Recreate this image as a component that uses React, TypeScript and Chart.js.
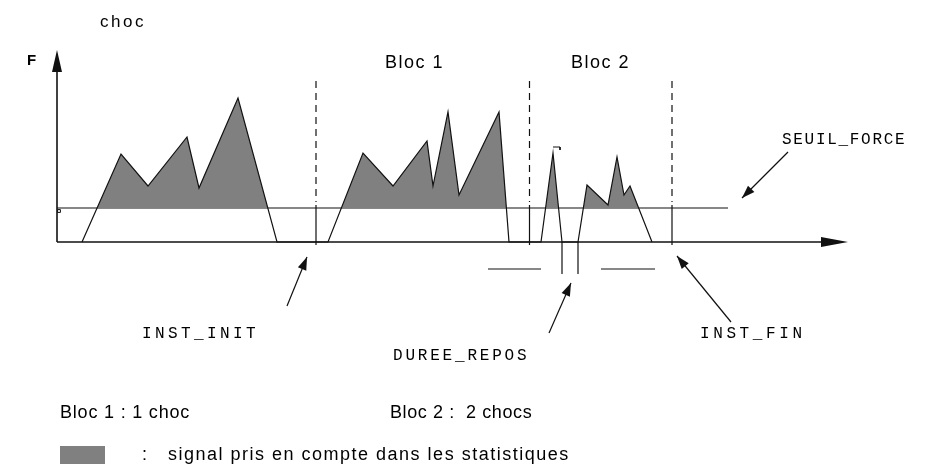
import { useEffect, useRef } from "react";
import { Chart, registerables } from "chart.js";

Chart.register(...registerables);

// ---- data (time units along the axis, force units upward) ----
const SEUIL_FORCE = 34;
const signalTime = [25, 64, 91, 130, 142, 181, 220, 271, 306, 336, 370, 376, 391, 402, 442, 452, 484, 496, 505, 521, 530, 551, 560, 567, 573, 595];
const signalForce = [0, 88, 56, 105, 54, 144, 0, 0, 89, 56, 101, 56, 130, 47, 130, 0, 0, 89, 0, 0, 57, 37, 85, 47, 56, 0];
const markerTime = [259, 472.5, 615]; // INST_INIT, bloc boundary, INST_FIN
const reposTime = [505, 521];
const reposBarStart = [431, 544];
const reposBarEnd = [484, 598];
const thresholdEnd = 671;
const xAxisEnd = 791;
const yAxisEnd = 192;

const GRAY = "#808080";
const INK = "#111";

function seg(x1: number, y1: number, x2: number, y2: number, dash: number[] = [], width = 1.2) {
  return {
    data: [{ x: x1, y: y1 }, { x: x2, y: y2 }],
    borderColor: INK,
    borderWidth: width,
    borderDash: dash,
    pointRadius: 0,
    showLine: true,
    fill: false,
  };
}

function spaced(ctx: CanvasRenderingContext2D, text: string, x: number, y: number, sp: number) {
  (ctx as any).letterSpacing = sp + "px";
  ctx.fillText(text, x, y);
  (ctx as any).letterSpacing = "0px";
}

const annot = {
  id: "annot",
  afterDatasetsDraw(chart: any) {
    const ctx = chart.ctx as CanvasRenderingContext2D;
    const xs = chart.scales.x;
    const ys = chart.scales.y;
    const px = (v: number) => xs.getPixelForValue(v);
    const py = (v: number) => ys.getPixelForValue(v);
    ctx.save();
    ctx.fillStyle = INK;
    ctx.strokeStyle = INK;

    // axis arrowheads
    const ox = px(0), oy = py(0);
    ctx.beginPath();
    ctx.moveTo(px(xAxisEnd), oy);
    ctx.lineTo(px(xAxisEnd) - 27, oy - 5);
    ctx.lineTo(px(xAxisEnd) - 27, oy + 5);
    ctx.closePath();
    ctx.fill();
    ctx.beginPath();
    ctx.moveTo(ox, py(yAxisEnd));
    ctx.lineTo(ox - 5, py(yAxisEnd) + 22);
    ctx.lineTo(ox + 5, py(yAxisEnd) + 22);
    ctx.closePath();
    ctx.fill();

    // annotation arrows (tail -> tip), in data units
    const arrows = [
      [731, 90, 685, 44],
      [230, -64, 250, -15],
      [492, -91, 514, -41],
      [674, -80, 620, -14],
    ];
    ctx.lineWidth = 1.2;
    for (const [tx, ty, hx, hy] of arrows) {
      const x1 = px(tx), y1 = py(ty), x2 = px(hx), y2 = py(hy);
      const a = Math.atan2(y2 - y1, x2 - x1);
      ctx.beginPath();
      ctx.moveTo(x1, y1);
      ctx.lineTo(x2, y2);
      ctx.stroke();
      const L = 13, W = 4.5;
      ctx.beginPath();
      ctx.moveTo(x2, y2);
      ctx.lineTo(x2 - L * Math.cos(a) + W * Math.sin(a), y2 - L * Math.sin(a) - W * Math.cos(a));
      ctx.lineTo(x2 - L * Math.cos(a) - W * Math.sin(a), y2 - L * Math.sin(a) + W * Math.cos(a));
      ctx.closePath();
      ctx.fill();
    }

    // texts
    ctx.textBaseline = "middle";
    ctx.fillStyle = "#000";
    ctx.textAlign = "left";
    ctx.font = '17px "Liberation Sans", Arial, sans-serif';
    spaced(ctx, "choc", 100, 22, 2.5);
    ctx.font = 'bold 15px "Liberation Sans", Arial, sans-serif';
    ctx.fillText("F", 27, 61);
    ctx.font = '18px "Liberation Sans", Arial, sans-serif';
    spaced(ctx, "Bloc 1", 385, 63, 1.5);
    spaced(ctx, "Bloc 2", 571, 63, 1.5);

    ctx.font = '16px "Liberation Mono", "DejaVu Sans Mono", monospace';
    spaced(ctx, "SEUIL_FORCE", 782, 140, 1.7);
    spaced(ctx, "INST_INIT", 142, 334, 3.4);
    spaced(ctx, "DUREE_REPOS", 393, 356, 2.8);
    spaced(ctx, "INST_FIN", 700, 334, 3.6);

    ctx.font = '18px "Liberation Sans", Arial, sans-serif';
    spaced(ctx, "Bloc 1 : 1 choc", 60, 413, 0.8);
    spaced(ctx, "Bloc 2 :  2 chocs", 390, 413, 0.6);
    ctx.fillText(":", 142, 455);
    spaced(ctx, "signal pris en compte dans les statistiques", 168, 455, 1.5);
    ctx.fillStyle = GRAY;
    ctx.fillRect(60, 446, 45, 18);
    ctx.restore();
  },
};

export default function App() {
  const ref = useRef<HTMLCanvasElement | null>(null);
  useEffect(() => {
    if (!ref.current) return;
    const datasets: any[] = [
      {
        data: signalTime.map((t, i) => ({ x: t, y: signalForce[i] })),
        borderColor: INK,
        borderWidth: 1.2,
        pointRadius: 0,
        showLine: true,
        fill: { target: { value: SEUIL_FORCE }, above: GRAY, below: "rgba(0,0,0,0)" },
      },
      seg(0, SEUIL_FORCE, thresholdEnd, SEUIL_FORCE),
      seg(0, 0, xAxisEnd - 20, 0, [], 1.6),
      seg(0, 0, 0, yAxisEnd - 10, [], 1.6),
      ...markerTime.map((t) => seg(t, 161, t, 40, [7, 5])),
      ...markerTime.map((t) => seg(t, 37, t, -3)),
      ...reposTime.map((t) => seg(t, 0, t, -32)),
      ...reposBarStart.map((s, i) => seg(s, -27, reposBarEnd[i], -27)),
      {
        data: [{ x: 2, y: 31 }],
        pointStyle: "rect",
        pointRadius: 2,
        borderColor: INK,
        borderWidth: 1,
        backgroundColor: "#fff",
        showLine: false,
      },
      {
        data: [{ x: 496, y: 95 }, { x: 503, y: 95 }, { x: 503, y: 92 }],
        borderColor: INK,
        borderWidth: 1,
        pointRadius: 0,
        showLine: true,
        fill: false,
      },
    ];
    const chart = new Chart(ref.current, {
      type: "scatter",
      data: { datasets },
      options: {
        animation: false,
        responsive: false,
        devicePixelRatio: 1,
        layout: { padding: 0, autoPadding: false },
        plugins: { legend: { display: false }, tooltip: { enabled: false } },
        scales: {
          x: { type: "linear", min: -57, max: 874, display: false },
          y: { type: "linear", min: -228, max: 242, display: false },
        },
      },
      plugins: [annot],
    });
    return () => chart.destroy();
  }, []);
  return (
    <div style={{ position: "fixed", left: 0, top: 0, width: 931, height: 470, background: "#fff" }}>
      <canvas ref={ref} width={931} height={470} />
    </div>
  );
}
